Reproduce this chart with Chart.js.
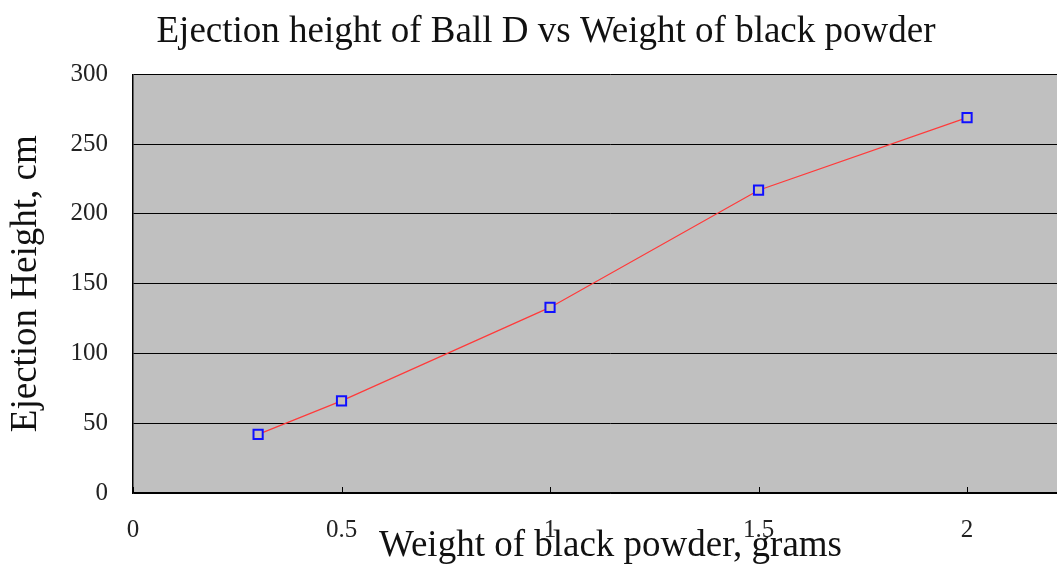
<!DOCTYPE html>
<html>
<head>
<meta charset="utf-8">
<script src="https://cdn.jsdelivr.net/npm/chart.js@4"></script>
<style>
  html, body { margin: 0; padding: 0; background: #fff; overflow: hidden; }
  #wrap { width: 1105px; height: 567px; }
</style>
</head>
<body>
<div id="wrap"><canvas id="myChart" width="1105" height="567"></canvas></div>
<script>
let powder = [0.3, 0.5, 1, 1.5, 2];
let heights = [42, 66, 133, 217, 269];
let xTicks = [0, 0.5, 1, 1.5, 2];

let plotBack = {
    id: 'plotBack',
    beforeDraw(chart) {
        let a = chart.chartArea;
        let c = chart.ctx;
        c.save();
        c.fillStyle = '#c0c0c0';
        c.fillRect(a.left, a.top, a.right - a.left, a.bottom - a.top);
        c.restore();
    },
    afterDatasetsDraw(chart) {
        // little tick marks pointing up into the plot
        let a = chart.chartArea;
        let c = chart.ctx;
        let x = chart.scales.x;
        c.save();
        c.strokeStyle = '#000';
        c.lineWidth = 1;
        xTicks.forEach(v => {
            let px = Math.round(x.getPixelForValue(v)) + 0.5;
            c.beginPath();
            c.moveTo(px, a.bottom);
            c.lineTo(px, a.bottom - 6);
            c.stroke();
        });
        c.restore();
    }
};

let ctx = document.getElementById("myChart").getContext('2d');

let chart = new Chart(ctx, {
    type: 'scatter',
    data: {
        datasets: [{
            data: powder.map((p, i) => ({x: p, y: heights[i]})),
            showLine: true,
            borderColor: '#ff3a3a',
            borderWidth: 1.2,
            pointStyle: 'rect',
            pointRadius: 6.5,
            pointBorderWidth: 2,
            pointBorderColor: '#1010ff',
            pointBackgroundColor: '#c8c0b8'
        }]
    },
    options: {
        responsive: false,
        animation: false,
        layout: { padding: { left: 4, right: 17, top: 0, bottom: 0 } },
        plugins: {
            legend: { display: false },
            tooltip: { enabled: false },
            title: {
                display: true,
                text: 'Ejection height of Ball D vs Weight of black powder',
                color: '#111',
                font: { family: 'Liberation Serif', size: 37, weight: 'normal' },
                padding: { top: 10, bottom: 20 }
            }
        },
        scales: {
            x: {
                type: 'linear',
                min: 0,
                max: 2.29,
                afterBuildTicks: s => { s.ticks = xTicks.map(v => ({value: v})); },
                afterFit: s => { s.height = 74; },
                grid: { display: false, drawTicks: false },
                border: { display: true, color: '#000', width: 1.5 },
                ticks: {
                    color: '#222',
                    padding: 32,
                    callback: v => String(v),
                    font: { family: 'Liberation Serif', size: 25, lineHeight: 0.4 }
                },
                title: {
                    display: true,
                    text: 'Weight of black powder, grams',
                    color: '#111',
                    font: { family: 'Liberation Serif', size: 37, lineHeight: 0.6 },
                    padding: { top: 0, bottom: 10 }
                }
            },
            y: {
                min: 0,
                max: 300,
                afterFit: s => { s.width = 129; },
                ticks: {
                    stepSize: 50,
                    color: '#222',
                    padding: 25,
                    font: { family: 'Liberation Serif', size: 25 }
                },
                grid: { color: '#000', lineWidth: 1, drawTicks: false },
                border: { display: true, color: '#000', width: 1.5 },
                title: {
                    display: true,
                    text: 'Ejection Height, cm',
                    color: '#111',
                    font: { family: 'Liberation Serif', size: 37 },
                    padding: { top: 0, bottom: 22 }
                }
            }
        }
    },
    plugins: [plotBack]
});
</script>
</body>
</html>
